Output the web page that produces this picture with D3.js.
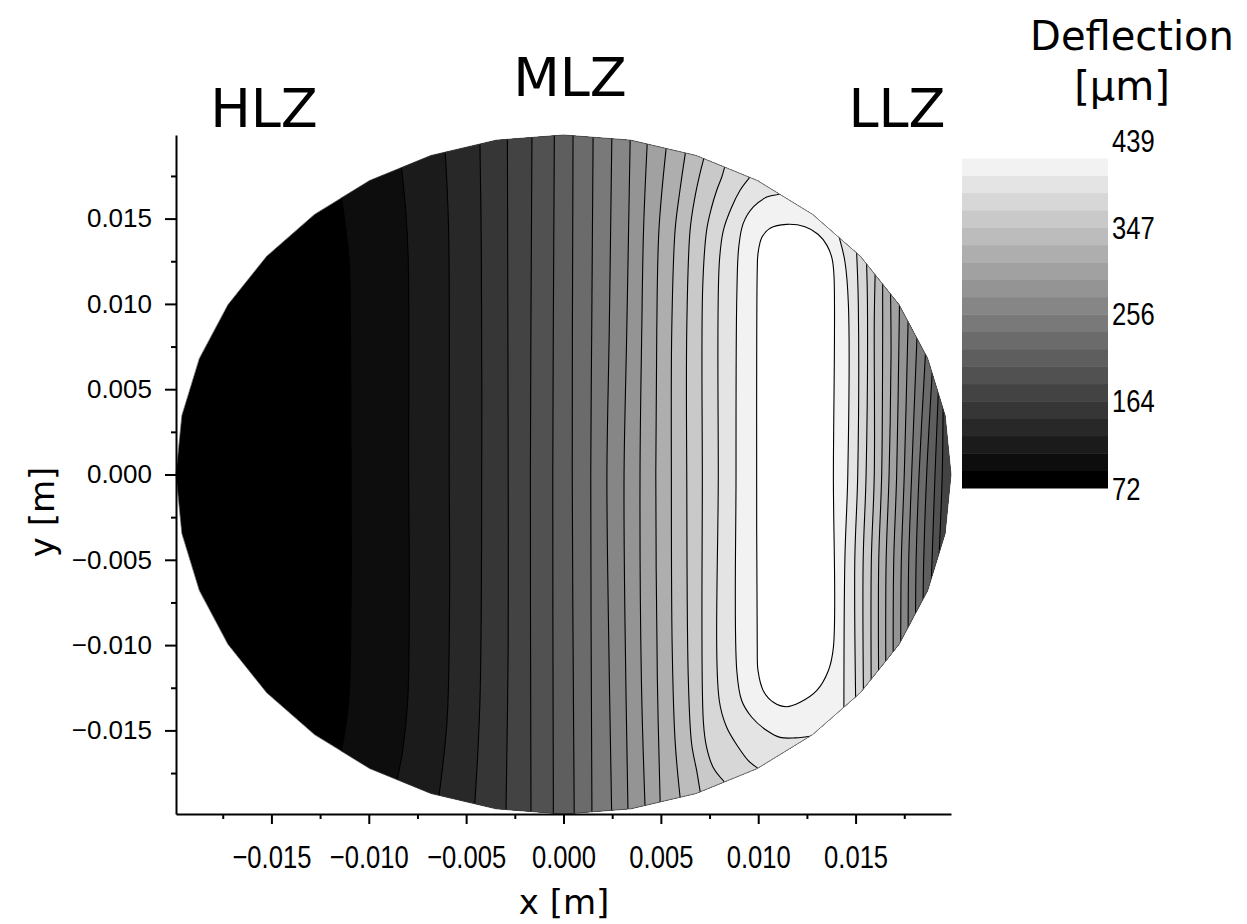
<!DOCTYPE html>
<html>
<head>
<meta charset="utf-8">
<script src="https://cdn.jsdelivr.net/npm/d3@7"></script>
<style>
  body { margin: 0; background: #fff; }
  svg { display: block; }
</style>
</head>
<body>
<script>
// colour levels of the deflection map [um]
var levelMin = 72, levelMax = 439, levelCount = 20;
var colorTicks = [72, 164, 256, 347, 439];

// axis ticks [m]
var majorTicks = [-0.015, -0.010, -0.005, 0, 0.005, 0.010, 0.015];
var minorTicks = [-0.0175, -0.0125, -0.0075, -0.0025, 0.0025, 0.0075, 0.0125, 0.0175];

// wafer rim (mesh polygon)
var rimRadius = 0.0199, rimSides = 36;

var zoneNames = ["HLZ", "MLZ", "LLZ"];

// contour lines, [x, y] in m, bottom -> top
// left branches, level 1..18
var leftLines = [
  [[-0.01138,-0.01607],[-0.01103,-0.01325],[-0.01091,-0.00739],[-0.01091,0],[-0.01094,0.00845],[-0.01100,0.01238],[-0.01117,0.01431],[-0.01139,0.01607]],
  [[-0.00852,-0.01775],[-0.00826,-0.01619],[-0.00800,-0.01325],[-0.00792,-0.00739],[-0.00795,0],[-0.00797,0.01238],[-0.00809,0.01531],[-0.00831,0.01787]],
  [[-0.00638,-0.01871],[-0.00598,-0.01443],[-0.00585,-0.00739],[-0.00587,0],[-0.00590,0.01431],[-0.00607,0.01883]],
  [[-0.00455,-0.01922],[-0.00429,-0.01325],[-0.00420,0],[-0.00422,0.01325],[-0.00429,0.01930]],
  [[-0.00295,-0.01951],[-0.00284,-0.01],[-0.00284,0],[-0.00286,0.01],[-0.00288,0.01959]],
  [[-0.00167,-0.01971],[-0.00170,0],[-0.00162,0.01977]],
  [[-0.00052,-0.01985],[-0.00055,0],[-0.00047,0.01985]],
  [[0.00055,-0.01985],[0.00045,0],[0.00049,0.01985]],
  [[0.00146,-0.01975],[0.00140,0],[0.00145,0.00845],[0.00152,0.01970]],
  [[0.00247,-0.01955],[0.00230,-0.008],[0.00223,0],[0.00235,0.00845],[0.00248,0.01955]],
  [[0.00331,-0.01962],[0.00315,-0.008],[0.00311,0],[0.00325,0.00845],[0.00342,0.01941]],
  [[0.00419,-0.01955],[0.00400,-0.012],[0.00393,0],[0.00402,0.00845],[0.00411,0.01431],[0.00429,0.01920]],
  [[0.00496,-0.01900],[0.00482,-0.012],[0.00474,0],[0.00479,0.00845],[0.00490,0.01431],[0.00526,0.01900]],
  [[0.00598,-0.01883],[0.00573,-0.01560],[0.00558,-0.01],[0.00554,0],[0.00556,0.00845],[0.00573,0.01431],[0.00598,0.01666],[0.00624,0.01871]],
  [[0.00701,-0.01853],[0.00684,-0.01736],[0.00658,-0.01578],[0.00641,-0.0120],[0.00633,0],[0.00633,0.00845],[0.00650,0.01431],[0.00675,0.01626],[0.00701,0.01765],[0.00716,0.01832]],
  [[0.00821,-0.01795],[0.00769,-0.01717],[0.00735,-0.01599],[0.00718,-0.01443],[0.00713,0],[0.00715,0.0110],[0.00735,0.01431],[0.00761,0.01568],[0.00787,0.01666],[0.00813,0.01744],[0.00824,0.01787]],
  [[0.00992,-0.01717],[0.00949,-0.01677],[0.00898,-0.01599],[0.00838,-0.01482],[0.00800,-0.01325],[0.00795,0],[0.00800,0.01238],[0.00821,0.01431],[0.00864,0.01568],[0.00907,0.01666],[0.00948,0.01730]],
  [[0.01290,-0.01530],[0.01189,-0.01544],[0.01112,-0.01541],[0.01044,-0.01501],[0.00967,-0.01423],[0.00915,-0.01325],[0.00890,-0.01150],[0.00886,0],[0.00890,0.01040],[0.00900,0.01333],[0.00923,0.01472],[0.00975,0.01568],[0.01044,0.01626],[0.01095,0.01640]]
];

// right branches, level 6..18
var rightFirst = 6;
var rightLines = [
  [[0.01930,-0.00442],[0.01945,0],[0.01949,0.00336]],
  [[0.01890,-0.00590],[0.01908,0],[0.01923,0.00434]],
  [[0.01847,-0.00713],[0.01850,-0.005],[0.01865,0],[0.01891,0.00551]],
  [[0.01808,-0.00807],[0.01811,-0.005],[0.01826,0],[0.01857,0.00669]],
  [[0.01770,-0.00887],[0.01773,-0.005],[0.01788,0],[0.01814,0.00768]],
  [[0.01732,-0.00959],[0.01735,-0.005],[0.01750,0],[0.01769,0.00864]],
  [[0.01693,-0.01027],[0.01696,-0.005],[0.01711,0],[0.01725,0.00962]],
  [[0.01655,-0.01087],[0.01657,-0.005],[0.01672,0],[0.01682,0.0070],[0.01680,0.01032]],
  [[0.01618,-0.01141],[0.01619,-0.005],[0.01634,0],[0.01639,0.0080],[0.01639,0.01091]],
  [[0.01580,-0.01193],[0.01581,-0.005],[0.01596,0],[0.01596,0.0090],[0.01600,0.01150]],
  [[0.01540,-0.01245],[0.01539,-0.005],[0.01554,0],[0.01561,0.0100],[0.01557,0.01216]],
  [[0.01500,-0.01292],[0.01496,-0.005],[0.01511,0],[0.01514,0.0100],[0.01506,0.01284]],
  [[0.01440,-0.01355],[0.01445,-0.005],[0.01460,0],[0.01463,0.0100],[0.01445,0.0125],[0.01420,0.01372]]
];

// closed loop around the maximum, level 19
var peakLoop = [
  [0.00992,0],[0.00995,0.01196],[0.00999,0.01296],[0.01019,0.01390],[0.01061,0.01443],[0.01146,0.01466],
  [0.01240,0.01452],[0.01307,0.01408],[0.01353,0.01343],[0.01379,0.01267],[0.01389,0.01167],[0.01386,0],
  [0.01386,-0.01013],[0.01360,-0.01150],[0.01300,-0.01267],[0.01215,-0.01335],[0.01146,-0.01361],
  [0.01078,-0.01335],[0.01026,-0.01267],[0.00999,-0.01150],[0.00995,-0.01000]
];

var width = 1247, height = 924;

var x = d3.scaleLinear().domain([-0.0199, 0.0199]).range([176, 951]);
var y = d3.scaleLinear().domain([-0.0199, 0.0199]).range([814, 135]);

var step = (levelMax - levelMin) / levelCount;
var thresholds = d3.range(levelCount + 1).map(function(i) { return levelMin + i * step; });
var shade = d3.scaleLinear().domain([0, levelCount - 1]).range(["#000", "#fff"]);

var svg = d3.select("body").append("svg")
    .attr("width", width)
    .attr("height", height);

// rim polygon
var rim = d3.range(rimSides).map(function(i) {
    var a = i * 2 * Math.PI / rimSides;
    return [rimRadius * Math.cos(a), rimRadius * Math.sin(a)];
});
function pt(p) { return x(p[0]) + "," + y(p[1]); }
var rimPath = "M" + rim.map(pt).join("L") + "Z";

svg.append("defs").append("clipPath").attr("id", "rim")
   .append("path").attr("d", rimPath);

var line = d3.line()
    .x(function(d) { return x(d[0]); })
    .y(function(d) { return y(d[1]); })
    .curve(d3.curveCatmullRom.alpha(0.5));
var loop = d3.line()
    .x(function(d) { return x(d[0]); })
    .y(function(d) { return y(d[1]); })
    .curve(d3.curveCatmullRomClosed.alpha(0.5));

function ang(p) { return Math.atan2(p[1], p[0]); }
function far(a) { var r = rimRadius * 1.5; return [r * Math.cos(a), r * Math.sin(a)]; }
// carry a branch end on past the rim
function extend(a, b) {
    var dx = a[0] - b[0], dy = a[1] - b[1], l = Math.sqrt(dx * dx + dy * dy);
    return [a[0] + dx / l * 0.0015, a[1] + dy / l * 0.0015];
}
// clockwise path outside the rim (a tiny backwards step is taken directly)
function arcCW(a0, a1) {
    while (a1 > a0) a1 -= 2 * Math.PI;
    if (a0 - a1 > 1.6 * Math.PI) a1 += 2 * Math.PI;
    var n = Math.max(1, Math.ceil(Math.abs(a0 - a1) / (Math.PI / 18))), s = "";
    for (var i = 0; i <= n; i++) s += "L" + pt(far(a0 + (a1 - a0) * i / n));
    return s;
}
function branch(pts) {
    var n = pts.length;
    var e0 = extend(pts[0], pts[1]), e1 = extend(pts[n - 1], pts[n - 2]);
    return {
        d: "M" + pt(far(ang(e0))) + "L" + pt(e0) + "L" + line(pts).slice(1) + "L" + pt(e1) + "L" + pt(far(ang(e1))),
        start: ang(e0),
        end: ang(e1)
    };
}
// area where deflection is above level k
function region(k) {
    var L = branch(leftLines[k - 1]);
    var R = rightLines[k - rightFirst];
    var s = L.d;
    if (k >= rightFirst && R) {
        var b = branch(R.slice().reverse());
        s += arcCW(L.end, b.start) + "L" + b.d.slice(1) + arcCW(b.end, L.start);
    } else {
        s += arcCW(L.end, L.start);
    }
    return s + "Z";
}

var map = svg.append("g").attr("clip-path", "url(#rim)");

map.append("path").attr("d", rimPath).attr("fill", shade(0));
for (var k = 1; k < levelCount - 1; k++) {
    map.append("path").attr("d", region(k)).attr("fill", shade(k));
}
map.append("path").attr("d", loop(peakLoop)).attr("fill", shade(levelCount - 1));

// contour lines
leftLines.concat(rightLines).forEach(function(pts) {
    map.append("path").attr("d", branch(pts).d)
       .attr("fill", "none").attr("stroke", "#000").attr("stroke-width", 1.1);
});
map.append("path").attr("d", loop(peakLoop))
   .attr("fill", "none").attr("stroke", "#000").attr("stroke-width", 1.1);

svg.append("path").attr("d", rimPath)
   .attr("fill", "none").attr("stroke", "#444").attr("stroke-width", 0.7);

// axes
var fmt = d3.format(".3f");
var xAxis = svg.append("g")
    .attr("transform", "translate(0," + y.range()[0] + ")")
    .call(d3.axisBottom(x).tickValues(majorTicks).tickSize(10).tickSizeOuter(0).tickFormat(fmt));
xAxis.selectAll("text")
    .attr("y", 31)
    .attr("transform", "scale(0.8,1)")
    .style("font-family", "'Liberation Sans', Arial, sans-serif")
    .style("font-size", "32px");
svg.append("g")
    .attr("transform", "translate(0," + y.range()[0] + ")")
    .call(d3.axisBottom(x).tickValues(minorTicks).tickSize(5).tickFormat(""))
    .select(".domain").remove();

var yAxis = svg.append("g")
    .attr("transform", "translate(" + x.range()[0] + ",0)")
    .call(d3.axisLeft(y).tickValues(majorTicks).tickSize(11).tickSizeOuter(0).tickFormat(fmt));
yAxis.selectAll("text")
    .attr("x", -24)
    .style("font-family", "'Liberation Sans', Arial, sans-serif")
    .style("font-size", "26px");
svg.append("g")
    .attr("transform", "translate(" + x.range()[0] + ",0)")
    .call(d3.axisLeft(y).tickValues(minorTicks).tickSize(5).tickFormat(""))
    .select(".domain").remove();

svg.selectAll(".domain, .tick line").attr("stroke", "#000").attr("stroke-width", 2);

// axis titles
svg.append("text")
    .attr("x", 564).attr("y", 914)
    .attr("text-anchor", "middle")
    .style("font-family", "'DejaVu Sans', sans-serif")
    .style("font-size", "34px")
    .text("x [m]");
svg.append("text")
    .attr("transform", "translate(54,512) rotate(-90)")
    .attr("text-anchor", "middle")
    .style("font-family", "'DejaVu Sans', sans-serif")
    .style("font-size", "34px")
    .text("y [m]");

// zone labels
svg.selectAll(".zone")
    .data(zoneNames)
    .enter()
    .append("text")
    .attr("class", "zone")
    .attr("x", function(d, i) { return [264, 570, 897][i]; })
    .attr("y", function(d, i) { return [127, 96, 127][i]; })
    .attr("text-anchor", "middle")
    .style("font-family", "'DejaVu Sans', sans-serif")
    .style("font-size", "54px")
    .text(function(d) { return d; });

// colour bar
var cbar = d3.scaleLinear().domain([levelMin, levelMax]).range([488, 140.6]);
svg.selectAll(".band")
    .data(d3.range(levelCount))
    .enter()
    .append("rect")
    .attr("class", "band")
    .attr("x", 962)
    .attr("width", 146)
    .attr("y", function(i) { return cbar(thresholds[i + 1]); })
    .attr("height", function(i) { return cbar(thresholds[i]) - cbar(thresholds[i + 1]) + 0.5; })
    .attr("fill", function(i) { return shade(i); });

svg.selectAll(".cbtick")
    .data(colorTicks)
    .enter()
    .append("text")
    .attr("class", "cbtick")
    .attr("transform", function(d) { return "translate(1112," + cbar(d) + ") scale(0.8,1)"; })
    .attr("dy", "0.36em")
    .style("font-family", "'Liberation Sans', Arial, sans-serif")
    .style("font-size", "32px")
    .text(function(d) { return d; });

svg.append("text")
    .attr("x", 1132).attr("y", 50)
    .attr("text-anchor", "middle")
    .style("font-family", "'DejaVu Sans', sans-serif")
    .style("font-size", "40px")
    .text("Deflection");
svg.append("text")
    .attr("x", 1122).attr("y", 100)
    .attr("text-anchor", "middle")
    .style("font-family", "'DejaVu Sans', sans-serif")
    .style("font-size", "40px")
    .text("[μm]");
</script>
</body>
</html>
